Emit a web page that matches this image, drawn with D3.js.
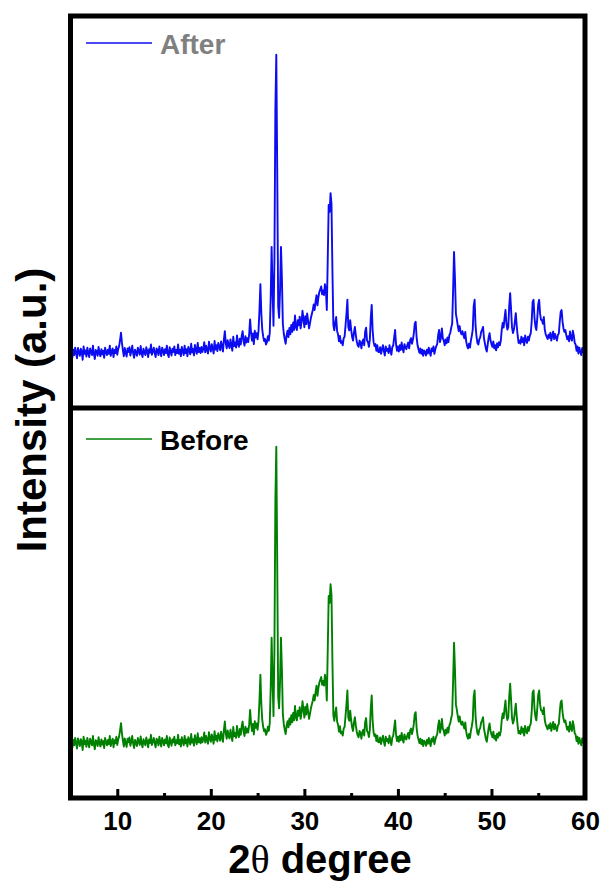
<!DOCTYPE html>
<html>
<head>
<meta charset="utf-8">
<script src="https://cdn.jsdelivr.net/npm/d3@7"></script>
<style>
  body { margin: 0; background: #fff; }
  text { font-family: "Liberation Sans", Arial, sans-serif; font-weight: bold; }
</style>
</head>
<body>
<div id="chart"></div>
<script>
// XRD scan, 2theta from 5 to 60 deg, step 0.1
const thetaStart = 5, thetaStep = 0.1
const scanCounts = [
  138,157,129,149,135,154,140,127,153,143,
  133,151,144,123,157,138,147,131,154,141,
  130,152,143,135,159,138,125,148,144,133,
  156,140,132,150,137,146,128,154,143,135,
  149,138,159,133,144,152,130,148,140,157,
  136,150,158,174,192,166,147,132,153,141,
  131,152,143,155,134,145,159,139,128,149,
  142,133,154,144,136,158,140,130,151,143,
  135,155,145,130,150,141,162,136,144,154,
  140,130,152,148,135,157,143,132,154,146,
  135,150,140,159,137,130,155,145,134,151,
  143,157,135,148,140,162,138,149,132,156,
  145,135,159,140,150,132,156,147,137,164,
  142,151,134,161,148,138,166,143,153,140,
  156,143,151,168,142,159,148,139,169,153,
  144,163,153,139,171,149,160,145,166,157,
  147,170,157,144,175,196,165,152,173,160,
  153,175,161,146,182,158,167,154,185,164,
  156,177,162,184,196,170,159,183,167,178,
  168,188,226,192,172,190,163,197,180,191,
  175,198,250,316,240,200,182,171,176,162,
  168,183,172,192,280,411,300,210,380,760,
  901,600,260,230,300,411,330,215,190,175,
  164,185,197,181,204,188,212,194,218,199,
  236,207,199,224,211,233,203,219,248,227,
  206,234,214,241,222,203,216,230,240,250,
  264,250,272,288,262,282,296,303,310,290,
  300,288,316,302,250,380,518,500,548,520,
  350,212,198,218,232,196,188,170,184,166,
  170,160,178,182,210,240,276,206,198,224,
  200,182,172,193,207,186,170,160,156,172,
  166,152,170,175,160,195,205,172,168,156,
  175,230,263,198,168,158,163,146,160,143,
  143,155,138,150,160,145,134,157,146,151,
  140,160,147,136,155,160,180,199,163,146,
  157,144,160,148,167,152,142,163,155,150,
  160,167,152,172,178,164,174,190,215,220,
  180,160,150,141,152,138,149,133,147,143,
  134,149,139,154,143,133,152,145,157,138,
  150,158,163,185,199,168,180,203,178,172,
  160,175,165,180,168,186,192,205,215,300,
  398,330,240,226,210,196,209,194,188,196,
  186,178,194,170,158,152,164,154,172,184,
  200,260,276,210,183,166,162,175,180,194,
  199,207,178,165,152,144,162,180,191,172,
  163,156,170,152,160,147,165,155,168,160,
  172,200,217,205,230,250,215,200,207,260,
  293,250,205,191,200,220,242,210,185,166,
  172,164,182,168,178,160,185,172,166,182,
  172,185,190,220,270,276,230,208,199,230,
  265,276,240,225,224,215,232,200,188,182,
  176,187,179,192,172,184,195,176,189,180,
  172,186,190,220,245,250,220,203,194,199,
  186,175,183,170,195,178,172,197,185,166,
  162,146,157,139,154,144,135,153,143,150,
  147
]
// both scans overlay identically in the figure
const afterCounts = scanCounts
const beforeCounts = scanCounts

const seriesNames = ['After', 'Before']
const seriesColors = ['#0c0cf2', '#008000']
const legendColors = ['#808080', '#000000']
const majorTicks = [10, 20, 30, 40, 50, 60]
const minorTicks = [15, 25, 35, 45, 55]

const width = 605, height = 885
const frameLeft = 70.5, frameRight = 585
const frameTop = 16, frameMid = 408, frameBottom = 798

let svg = d3.select('#chart')
  .append('svg')
  .attr('width', width)
  .attr('height', height)

const x = d3.scaleLinear()
  .domain([5, 60])
  .range([frameLeft, frameRight])

// one y scale per panel
const panels = [
  { name: seriesNames[0], data: afterCounts, y0: frameTop, y1: frameMid },
  { name: seriesNames[1], data: beforeCounts, y0: frameMid, y1: frameBottom }
]

panels.forEach((p, k) => {
  const y = d3.scaleLinear()
    .domain([0, 1000])
    .range([p.y1, p.y0])

  const pts = p.data.map((v, i) => [thetaStart + i * thetaStep, v])

  const line = d3.line()
    .x(d => x(d[0]))
    .y(d => y(d[1]))

  svg.append('path')
    .datum(pts)
    .attr('d', line)
    .attr('fill', 'none')
    .attr('stroke', seriesColors[k])
    .attr('stroke-width', 1.9)
    .attr('stroke-linejoin', 'round')

  // legend
  const ly = p.y0 + (k === 0 ? 27 : 31)
  svg.append('line')
    .attr('x1', 86).attr('x2', 152)
    .attr('y1', ly).attr('y2', ly)
    .attr('stroke', seriesColors[k])
    .attr('stroke-width', 1.5)
  svg.append('text')
    .attr('x', 160)
    .attr('y', ly + 11)
    .attr('font-size', 28)
    .attr('fill', legendColors[k])
    .text(p.name)
})

// frame and divider
svg.append('rect')
  .attr('x', frameLeft).attr('y', frameTop)
  .attr('width', frameRight - frameLeft).attr('height', frameBottom - frameTop)
  .attr('fill', 'none')
  .attr('stroke', '#000')
  .attr('stroke-width', 5)
svg.append('line')
  .attr('x1', frameLeft).attr('x2', frameRight)
  .attr('y1', frameMid).attr('y2', frameMid)
  .attr('stroke', '#000')
  .attr('stroke-width', 5)

// bottom axis, ticks pointing inward
const gx = svg.append('g')
  .attr('transform', `translate(0, ${frameBottom})`)
  .call(d3.axisBottom(x).tickValues(majorTicks).tickSizeInner(-9).tickSizeOuter(0).tickPadding(14))
gx.select('.domain').remove()
gx.selectAll('line').attr('stroke-width', 3)
gx.selectAll('text')
  .attr('font-size', 26)
  .attr('font-family', '"Liberation Sans", Arial, sans-serif')
  .attr('font-weight', 'bold')
  .attr('fill', '#000')
  .attr('dy', '0.71em')

const gm = svg.append('g')
  .attr('transform', `translate(0, ${frameBottom})`)
  .call(d3.axisBottom(x).tickValues(minorTicks).tickSizeInner(-5).tickSizeOuter(0).tickFormat(''))
gm.select('.domain').remove()
gm.selectAll('line').attr('stroke-width', 3)

// axis titles
const xt = svg.append('text')
  .attr('x', 320)
  .attr('y', 873)
  .attr('text-anchor', 'middle')
  .attr('font-size', 40)
xt.append('tspan').text('2')
xt.append('tspan')
  .attr('font-family', '"Liberation Serif", "Times New Roman", serif')
  .attr('font-weight', 'normal')
  .text('θ')
xt.append('tspan').text(' degree')

svg.append('text')
  .attr('transform', `translate(46, 410) rotate(-90)`)
  .attr('text-anchor', 'middle')
  .attr('font-size', 42)
  .text('Intensity (a.u.)')
</script>
</body>
</html>
